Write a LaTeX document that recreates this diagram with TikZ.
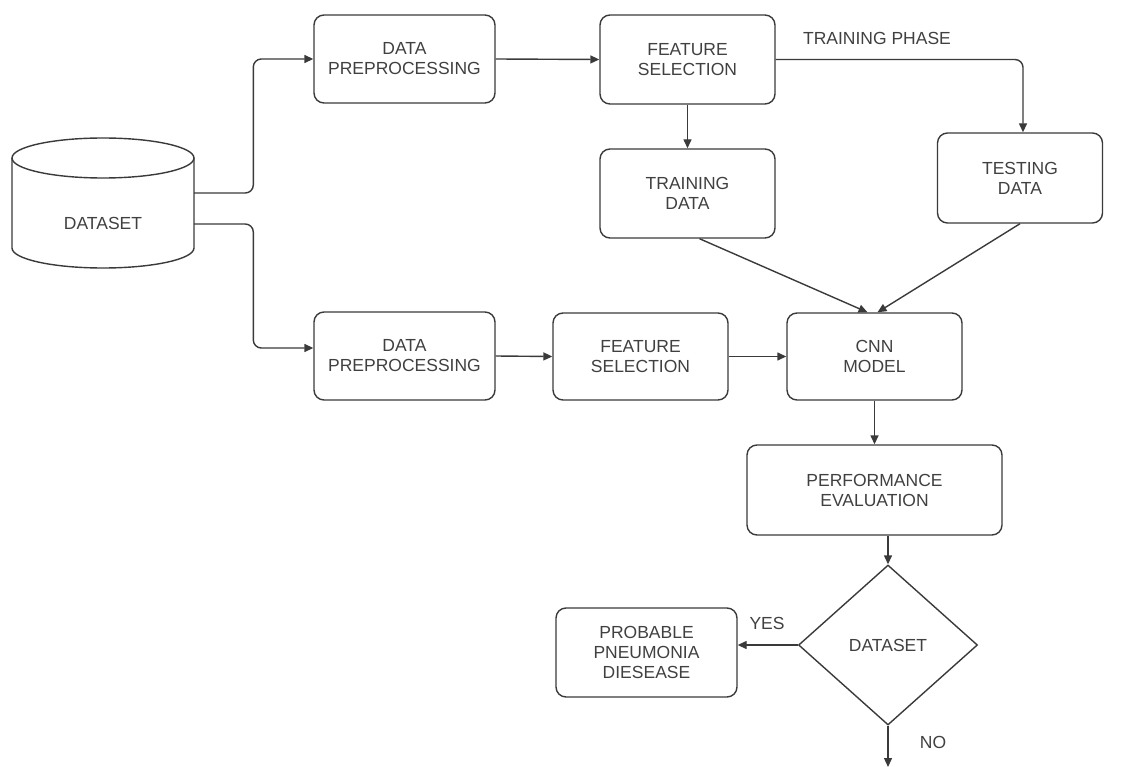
\documentclass[tikz,border=0pt]{standalone}
\usepackage{fontspec}
\setmainfont{Liberation Sans}
\usetikzlibrary{shapes.geometric,arrows.meta,calc}
\definecolor{txt}{HTML}{404040}
\definecolor{ln}{HTML}{3A3A3A}
\begin{document}
\begin{tikzpicture}[x=1pt,y=-1pt,
  box/.style={draw=ln,line width=1.4pt,rounded corners=10pt,align=center,text=txt,inner sep=0pt,
    font=\fontsize{17.5}{20}\selectfont},
  lbl/.style={text=txt,font=\fontsize{17.5}{20}\selectfont,inner sep=0pt},
  arr/.style={draw=ln,line width=1.4pt,-{Triangle[length=9pt,width=8pt]}},
  ]
\useasboundingbox (0,0) rectangle (1121,767);
% cylinder
\draw[ln,line width=1.4pt] (12,158) -- (12,248) arc[start angle=180,end angle=0,x radius=91,y radius=20] -- (194,158);
\draw[ln,line width=1.4pt] (103,158) ellipse [x radius=91,y radius=20];
\node[lbl] (ds) at (103,223) {DATASET};
\coordinate (c1) at (194,193);
\coordinate (c2) at (194,224);
% boxes
\node[box,minimum width=181pt,minimum height=88pt] (dp1) at (404.5,59) {DATA\\PREPROCESSING};
\node[box,minimum width=175pt,minimum height=89pt] (fs1) at (687.5,59.5) {FEATURE\\SELECTION};
\node[box,minimum width=175pt,minimum height=89pt] (td) at (687.5,193.5) {TRAINING\\DATA};
\node[box,minimum width=165pt,minimum height=90pt] (tst) at (1020,178) {TESTING\\DATA};
\node[box,minimum width=181pt,minimum height=88pt] (dp2) at (404.5,356) {DATA\\PREPROCESSING};
\node[box,minimum width=175pt,minimum height=87pt] (fs2) at (640.5,356.5) {FEATURE\\SELECTION};
\node[box,minimum width=175pt,minimum height=87pt] (cnn) at (874.5,356.5) {CNN\\MODEL};
\node[box,minimum width=255pt,minimum height=90pt] (pe) at (874.5,490) {PERFORMANCE\\EVALUATION};
\node[draw=ln,line width=1.4pt,diamond,aspect=1.12,minimum width=179pt,minimum height=160pt,inner sep=0pt,
  text=txt,font=\fontsize{17.5}{20}\selectfont] (dia) at (888,645) {DATASET};
\node[box,minimum width=181pt,minimum height=89pt] (prob) at (646.5,652.5) {PROBABLE\\PNEUMONIA\\DIESEASE};
\coordinate (end) at (888,767);
% labels
\node[lbl] (tp) at (877,38) {TRAINING PHASE};
\node[lbl] (yes) at (767,623) {YES};
\node[lbl] (no) at (933,742) {NO};
% connectors
\draw[arr,rounded corners=8pt] (c1) -| ([xshift=-60pt]dp1.west) -- (dp1.west);
\draw[arr,rounded corners=8pt] (c2) -| ([xshift=-60pt,yshift=8pt]dp2.west) -- ([yshift=8pt]dp2.west);
\draw[arr] (dp1.east) -- (fs1.west);
\draw[arr] (fs1.south) -- (td.north);
\draw[arr,rounded corners=8pt] (fs1.east) -| ([xshift=3pt]tst.north);
\draw[arr] ([xshift=12pt]td.south) -- ([xshift=-7pt]cnn.north);
\draw[arr] (tst.south) -- ([xshift=3pt]cnn.north);
\draw[arr] (dp2.east) -- (fs2.west);
\draw[arr] (fs2.east) -- (cnn.west);
\draw[arr] (cnn.south) -- (pe.north);
\draw[arr] (pe.south -| dia.north) -- (dia.north);
\draw[arr] (dia.west) -- (dia.west -| prob.east);
\draw[arr] (dia.south) -- (end);
\end{tikzpicture}
\end{document}
